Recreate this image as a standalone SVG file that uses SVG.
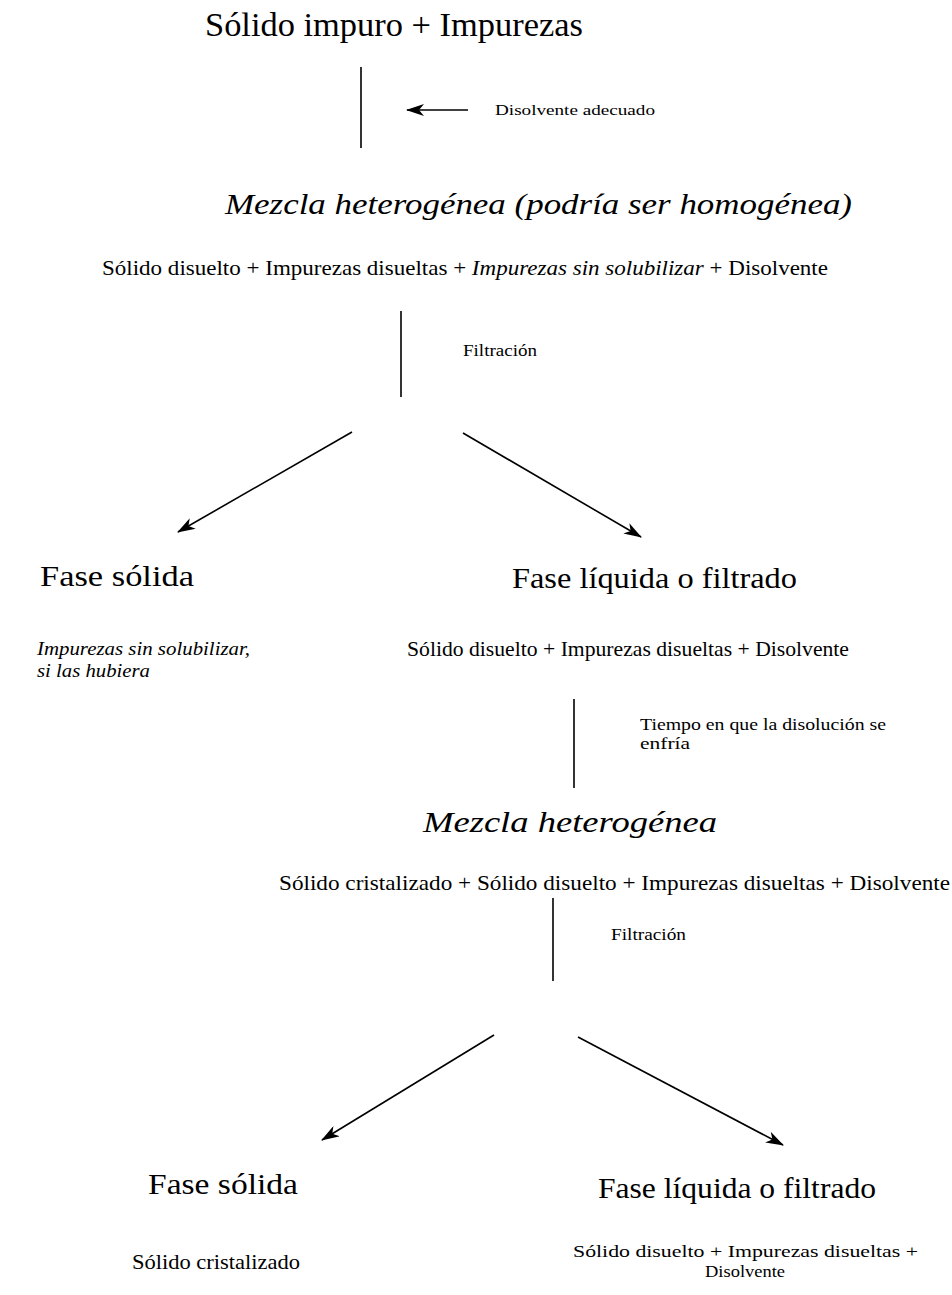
<svg xmlns="http://www.w3.org/2000/svg" width="952" height="1295" viewBox="0 0 952 1295" font-family="'Liberation Serif', 'Times New Roman', Times, serif">
  <style>
    text { font-family: 'Liberation Serif', 'Times New Roman', Times, serif; fill: #000; }
    .big { font-size: 34px; }
    .head { font-size: 30px; }
    .ital { font-style: italic; }
    .body { font-size: 22px; }
    .pair { font-size: 19px; }
    .pair2 { font-size: 17px; }
    .small { font-size: 17px; }
    .tiny { font-size: 15px; }
    .line { stroke: #000; stroke-width: 1.6; fill: none; }
    .arrow { stroke: #000; stroke-width: 1.6; fill: none; marker-end: url(#head); }
  </style>
  <defs>
    <!-- barbed filled arrowhead -->
    <marker id="head" markerWidth="18" markerHeight="12" refX="17" refY="6" orient="auto" markerUnits="userSpaceOnUse">
      <path d="M0,0 L18,6 L0,12 L5,6 Z" fill="#000"/>
    </marker>
  </defs>
  <rect width="952" height="1295" fill="#fff"/>

  <!-- connectors -->
  <g id="connectors">
    <line class="line" x1="361" y1="67" x2="361" y2="148"/>
    <line class="arrow" x1="468" y1="110" x2="407" y2="110"/>
    <line class="line" x1="401" y1="311" x2="401" y2="397"/>
    <line class="arrow" x1="352" y1="432" x2="178" y2="532"/>
    <line class="arrow" x1="463" y1="433" x2="641" y2="537"/>
    <line class="line" x1="574" y1="699" x2="574" y2="788"/>
    <line class="line" x1="553" y1="898" x2="553" y2="981"/>
    <line class="arrow" x1="494" y1="1035" x2="322" y2="1140"/>
    <line class="arrow" x1="578" y1="1037" x2="783" y2="1145"/>
  </g>

  <!-- start -->
  <g id="start">
    <text class="big" x="205" y="36" textLength="378" lengthAdjust="spacingAndGlyphs">Sólido impuro + Impurezas</text>
  </g>

  <g id="solvent">
    <text class="tiny" x="495" y="115" textLength="160" lengthAdjust="spacingAndGlyphs">Disolvente adecuado</text>
  </g>

  <!-- first mixture -->
  <g id="mixture1">
    <text class="head ital" x="225" y="214" textLength="627" lengthAdjust="spacingAndGlyphs">Mezcla heterogénea (podría ser homogénea)</text>
    <text class="body" x="102" y="275" textLength="726" lengthAdjust="spacingAndGlyphs">Sólido disuelto + Impurezas disueltas + <tspan class="ital">Impurezas sin solubilizar</tspan> + Disolvente</text>
  </g>

  <g id="filtration1">
    <text class="small" x="463" y="356" textLength="74" lengthAdjust="spacingAndGlyphs">Filtración</text>
  </g>

  <!-- first split -->
  <g id="solid1">
    <text class="head" x="40" y="586" textLength="154" lengthAdjust="spacingAndGlyphs">Fase sólida</text>
    <text class="pair ital" x="37" y="655" textLength="213" lengthAdjust="spacingAndGlyphs">Impurezas sin solubilizar,</text>
    <text class="pair ital" x="37" y="677" textLength="113" lengthAdjust="spacingAndGlyphs">si las hubiera</text>
  </g>

  <g id="liquid1">
    <text class="head" x="512" y="588" textLength="285" lengthAdjust="spacingAndGlyphs">Fase líquida o filtrado</text>
    <text class="body" x="407" y="656" textLength="442" lengthAdjust="spacingAndGlyphs">Sólido disuelto + Impurezas disueltas + Disolvente</text>
  </g>

  <g id="cooling">
    <text class="small" x="640" y="730" textLength="246" lengthAdjust="spacingAndGlyphs">Tiempo en que la disolución se</text>
    <text class="small" x="640" y="749" textLength="50" lengthAdjust="spacingAndGlyphs">enfría</text>
  </g>

  <!-- second mixture -->
  <g id="mixture2">
    <text class="head ital" x="423" y="832" textLength="294" lengthAdjust="spacingAndGlyphs">Mezcla heterogénea</text>
    <text class="body" x="279" y="890" textLength="671" lengthAdjust="spacingAndGlyphs">Sólido cristalizado + Sólido disuelto + Impurezas disueltas + Disolvente</text>
  </g>

  <g id="filtration2">
    <text class="small" x="611" y="940" textLength="75" lengthAdjust="spacingAndGlyphs">Filtración</text>
  </g>

  <!-- second split -->
  <g id="solid2">
    <text class="head" x="148" y="1194" textLength="150" lengthAdjust="spacingAndGlyphs">Fase sólida</text>
    <text class="body" x="132" y="1269" textLength="168" lengthAdjust="spacingAndGlyphs">Sólido cristalizado</text>
  </g>

  <g id="liquid2">
    <text class="head" x="598" y="1198" textLength="278" lengthAdjust="spacingAndGlyphs">Fase líquida o filtrado</text>
    <text class="pair2" x="573" y="1257" textLength="345" lengthAdjust="spacingAndGlyphs">Sólido disuelto + Impurezas disueltas +</text>
    <text class="pair2" x="705" y="1277" textLength="80" lengthAdjust="spacingAndGlyphs">Disolvente</text>
  </g>
</svg>
